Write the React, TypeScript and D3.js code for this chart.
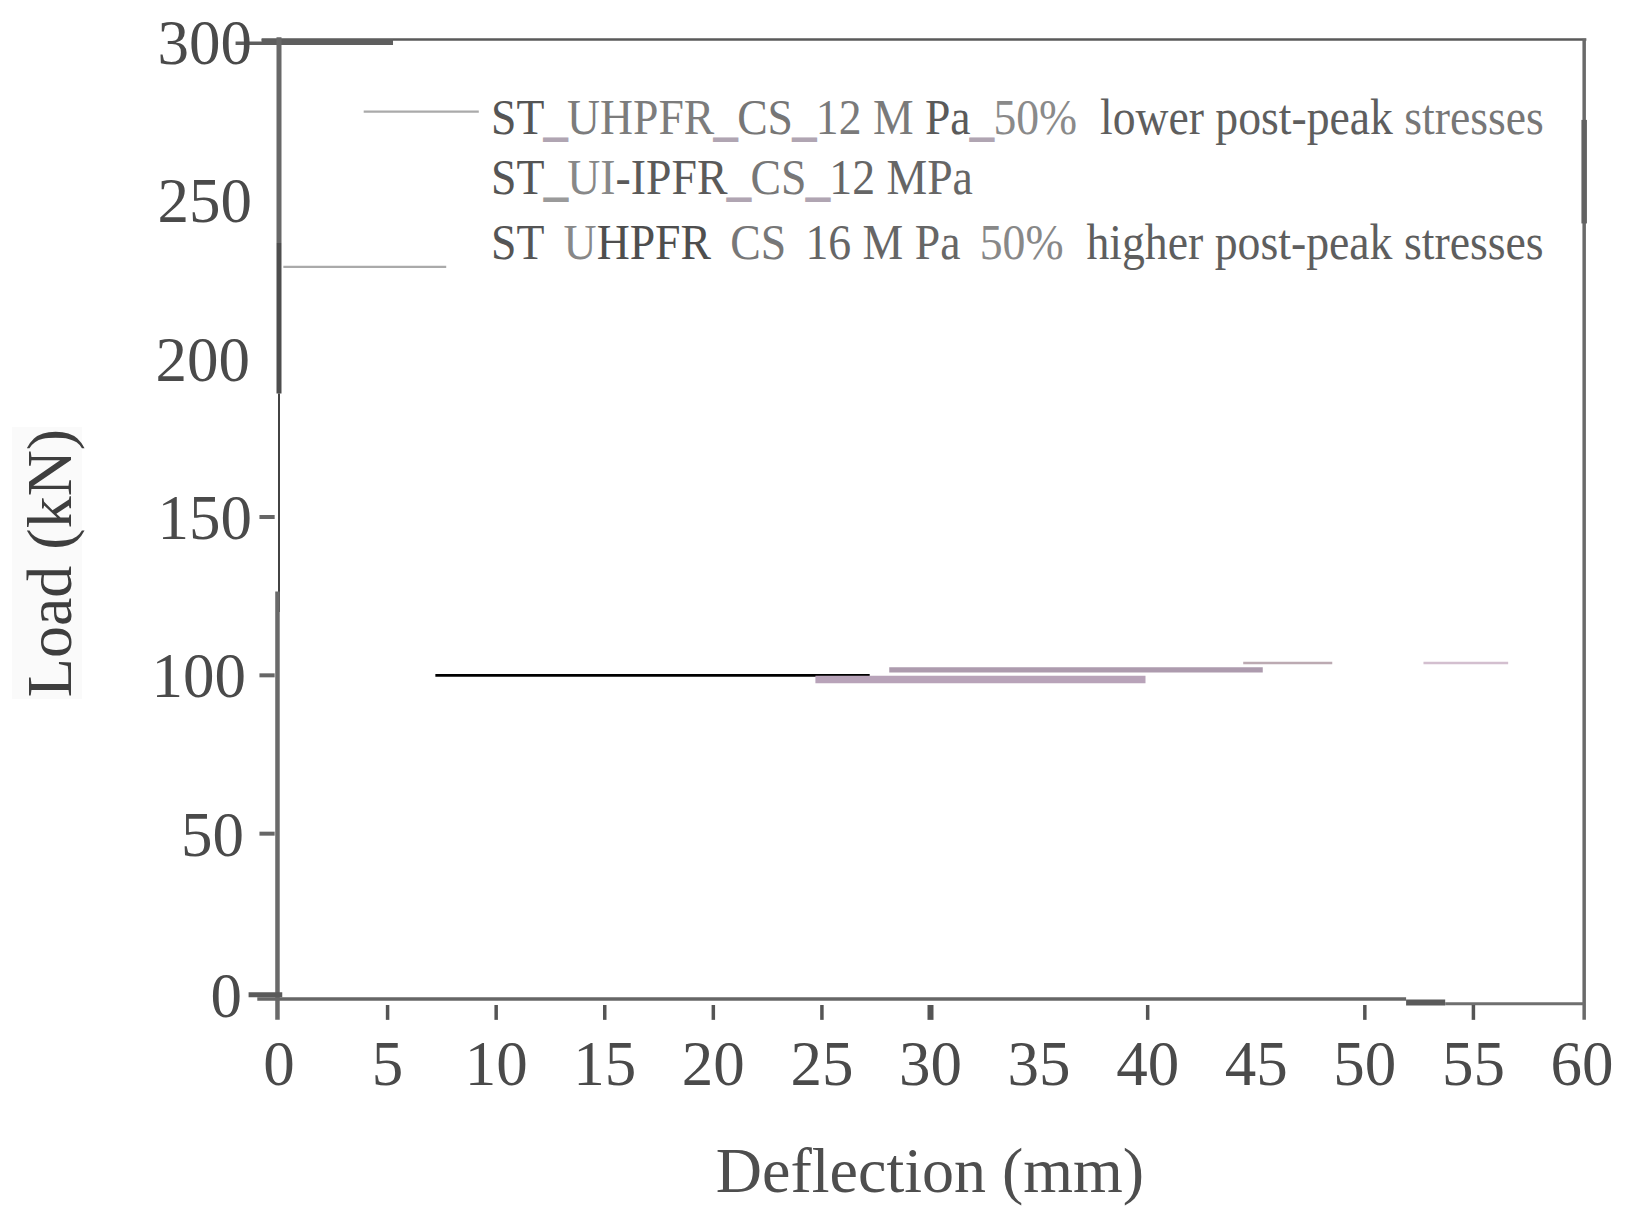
import React, { useLayoutEffect, useRef, useState } from "react";
import * as d3 from "d3";

// ---------- data ----------
const xTickLabels = [0, 5, 10, 15, 20, 25, 30, 35, 40, 45, 50, 55, 60];
const xTickMarks = [5, 10, 15, 20, 25, 30, 40, 50, 55];
const yTickLabels = [0, 50, 100, 150, 200, 250, 300];
const yTickMarks = [50, 100, 150];

// horizontal curve segments (deflection mm, load kN)
const segStart = [7.2, 24.7, 28.1, 44.4, 52.7];
const segEnd = [27.2, 39.9, 45.3, 48.5, 56.6];
const segLoad = [100, 98.7, 101.7, 103.9, 103.9];

// legend sample lines
const legendStart = [3.9, 0.2];
const legendEnd = [9.2, 7.7];
const legendLoad = [278, 229];

// legend texts (pieces)
const legendLine1 = ["ST", "_", "UHPFR", "_", "CS", "_", "12 M", " Pa", "_", "50%", "  lower post-peak ", "stresses"];
const legendLine2 = ["ST", "_", "UI", "-IPFR", "_", "CS", "_", "12 MPa"];
const legendLine3 = ["ST", "_", "U", "HPFR", "_", "CS", "_", "16 M", " Pa", "_", "50%", "  higher post-peak stresses"];

const xTitle = "Deflection (mm)";
const yTitle = "Load (kN)";

// ---------- styles ----------
const segStyle = [
  { stroke: "#000000", width: 2.6 },
  { stroke: "#b8a3b9", width: 7.5 },
  { stroke: "#ad9bae", width: 5.2 },
  { stroke: "#bcaab2", width: 2.6 },
  { stroke: "#d3bfcf", width: 2.6 },
];
const UND = "#b0a5b2";
const legendColors1 = ["#555", UND, "#7c7c7c", UND, "#767676", UND, "#7a7a7a", "#5a5a5a", UND, "#8a8a8a", "#5e5e5e", "#777"];
const legendColors2 = ["#555", "#9a9a9a", "#888", "#5a5a5a", UND, "#777", UND, "#666"];
const legendColors3 = ["#555", "none", "#888", "#4e4e4e", "none", "#777", "none", "#666", "#666", "none", "#888", "#5e5e5e"];

const W = 1628;
const H = 1209;
const FONT = "'Liberation Serif', 'Times New Roman', serif";

function LegendText({
  pieces,
  colors,
  x,
  y,
  width,
}: {
  pieces: string[];
  colors: string[];
  x: number;
  y: number;
  width: number;
}) {
  const ref = useRef<SVGTextElement>(null);
  const [s, setS] = useState(1);
  useLayoutEffect(() => {
    if (ref.current) {
      const w = ref.current.getBBox().width;
      if (w > 0) setS(width / w);
    }
  }, []);
  const fs = 50;
  const items: React.ReactNode[] = [];
  let pendingDx = 0;
  pieces.forEach((p, i) => {
    if (colors[i] === "none") {
      pendingDx += fs * 0.42;
      return;
    }
    const isUnd = p === "_";
    items.push(
      <tspan
        key={i}
        dx={pendingDx || undefined}
        fill={colors[i]}
        stroke={isUnd ? colors[i] : undefined}
        strokeWidth={isUnd ? 2 : undefined}
      >
        {p}
      </tspan>
    );
    pendingDx = 0;
  });
  return (
    <text
      ref={ref}
      transform={`translate(${x},${y}) scale(${s},1)`}
      fontFamily={FONT}
      fontSize={fs}
      style={{ whiteSpace: "pre" }}
    >
      {items}
    </text>
  );
}

export default function App() {
  const x = d3.scaleLinear().domain([0, 60]).range([279, 1582]);
  const y = d3.scaleLinear().domain([0, 300]).range([992, 42]);

  const hline = (x0: number, x1: number, v: number, stroke: string, w: number, key: string) => (
    <line key={key} x1={x(x0)} x2={x(x1)} y1={y(v)} y2={y(v)} stroke={stroke} strokeWidth={w} />
  );
  const vline = (xv: number, v0: number, v1: number, stroke: string, w: number, key: string) => (
    <line key={key} x1={x(xv)} x2={x(xv)} y1={y(v0)} y2={y(v1)} stroke={stroke} strokeWidth={w} />
  );

  const yLabelEnd: Record<number, number> = { 0: 242, 50: 244, 100: 246, 150: 252, 200: 250, 250: 252, 300: 252 };

  return (
    <svg
      width={W}
      height={H}
      viewBox={`0 0 ${W} ${H}`}
      style={{ position: "absolute", left: 0, top: 0, background: "#fff" }}
    >
      <rect x={0} y={0} width={W} height={H} fill="#ffffff" />

      {/* frame top */}
      {hline(-0.8, 60.2, 300.8, "#5a5a5a", 2.5, "top")}
      {hline(-0.8, 5.25, 300, "#5e5e5e", 6, "topbar")}
      {hline(-2.0, 0, 299.6, "#5e5e5e", 3.5, "t300")}

      {/* left axis pieces */}
      {vline(0, 301.5, 236.5, "#686868", 5, "la1")}
      {vline(0, 236.5, 189, "#4e4e4e", 5, "la2")}
      {vline(0, 189, 120, "#2e2e2e", 1.8, "la3")}
      {vline(-0.07, 126.5, -8.8, "#6a6a6a", 4.5, "la4")}

      {/* right frame */}
      {vline(60.1, 301, -8.8, "#6a6a6a", 3.5, "rf")}
      {vline(60.1, 275.4, 242.7, "#626262", 5.5, "rf2")}

      {/* bottom axis */}
      {hline(-1.0, 51.9, -2.2, "#666666", 3.5, "bx1")}
      {hline(51.9, 53.7, -3.3, "#5a5a5a", 6, "bx2")}
      {hline(53.7, 60.1, -3.7, "#6f6f6f", 3, "bx3")}

      {/* y tick marks */}
      {hline(-1.4, 0.15, -0.9, "#5a5a5a", 5, "t0")}
      {yTickMarks.map((v) => hline(-0.9, -0.2, v, "#666666", 4, "yt" + v))}

      {/* x tick marks */}
      {xTickMarks.map((v) => vline(v, -4.1, -8.8, "#555555", v === 30 ? 6 : 3.5, "xt" + v))}

      {/* y tick labels */}
      {yTickLabels.map((v) => (
        <text
          key={"yl" + v}
          x={yLabelEnd[v]}
          y={y(v) + (v === 0 ? 3 : 0)}
          dy="0.35em"
          textAnchor="end"
          fontFamily={FONT}
          fontSize={63}
          fill="#4a4a4a"
        >
          {v}
        </text>
      ))}

      {/* x tick labels */}
      {xTickLabels.map((v) => (
        <text
          key={"xl" + v}
          x={x(v)}
          y={1085}
          textAnchor="middle"
          fontFamily={FONT}
          fontSize={63}
          fill="#4a4a4a"
        >
          {v}
        </text>
      ))}

      {/* axis titles */}
      <text x={930} y={1192} textAnchor="middle" fontFamily={FONT} fontSize={64} fill="#4e4e4e">
        {xTitle}
      </text>
      <rect x={12} y={427} width={70} height={272} fill="#fafafa" />
      <text
        transform={`translate(71,563) rotate(-90)`}
        textAnchor="middle"
        fontFamily={FONT}
        fontSize={64}
        fill="#3e3e3e"
      >
        {yTitle}
      </text>

      {/* legend sample lines */}
      {legendStart.map((s, i) => hline(s, legendEnd[i], legendLoad[i], "#aaaaaa", 2.2, "lg" + i))}

      {/* legend texts */}
      <LegendText pieces={legendLine1} colors={legendColors1} x={491} y={134} width={1053} />
      <LegendText pieces={legendLine2} colors={legendColors2} x={491} y={194} width={482} />
      <LegendText pieces={legendLine3} colors={legendColors3} x={491} y={258.5} width={1053} />

      {/* data segments */}
      {segStart.map((s, i) =>
        hline(s, segEnd[i], segLoad[i], segStyle[i].stroke, segStyle[i].width, "seg" + i)
      )}
    </svg>
  );
}
